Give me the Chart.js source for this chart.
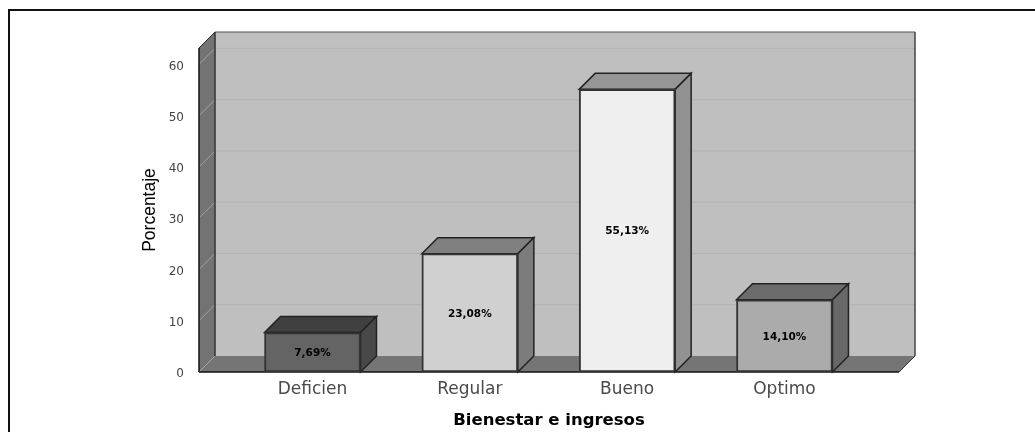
<!DOCTYPE html>
<html>
<head>
<meta charset="utf-8">
<title>Bienestar e ingresos</title>
<script src="https://cdn.jsdelivr.net/npm/chart.js@4/dist/chart.umd.min.js"></script>
<style>
  html, body { margin: 0; padding: 0; background: #fff; overflow: hidden; }
  #frame { position: absolute; left: 8px; top: 9px; width: 1040px; height: 440px;
           border-left: 2px solid #111; border-top: 2px solid #111; }
  #chart { position: absolute; left: 0; top: 0; filter: blur(0.35px); }
</style>
</head>
<body>
<canvas id="chart" width="1035" height="432"></canvas>
<div id="frame"></div>
<script>
// Data
const categories = ['Deficien', 'Regular', 'Bueno', 'Optimo'];
const percentages = [7.69, 23.08, 55.13, 14.10];
const yTicks = [0, 10, 20, 30, 40, 50, 60];

// Grey of each face of the bars
const frontColors = ['#646464', '#d0d0d0', '#efefef', '#ababab'];
const topColors = ['#404040', '#808080', '#969696', '#6c6c6c'];
const sideColors = ['#484848', '#7c7c7c', '#929292', '#686868'];

const depth = 16;

function fillFace(ctx, points, color, stroke) {
  ctx.beginPath();
  points.forEach((p, i) => i ? ctx.lineTo(p[0], p[1]) : ctx.moveTo(p[0], p[1]));
  ctx.closePath();
  ctx.fillStyle = color;
  ctx.fill();
  if (stroke) {
    ctx.strokeStyle = stroke;
    ctx.lineWidth = 1.5;
    ctx.stroke();
  }
}

function line(ctx, x1, y1, x2, y2, color, width) {
  ctx.beginPath();
  ctx.moveTo(x1, y1);
  ctx.lineTo(x2, y2);
  ctx.strokeStyle = color;
  ctx.lineWidth = width;
  ctx.stroke();
}

// Back wall, side wall, floor and the hidden faces of the bars
const box3d = {
  id: 'box3d',
  beforeDatasetsDraw(chart) {
    const ctx = chart.ctx;
    const { left, right, top, bottom } = chart.chartArea;
    const y = chart.scales.y;
    ctx.save();
    fillFace(ctx, [[left + depth, top - depth], [right + depth, top - depth],
                   [right + depth, bottom - depth], [left + depth, bottom - depth]], '#bfbfbf');
    fillFace(ctx, [[left, top], [left + depth, top - depth],
                   [left + depth, bottom - depth], [left, bottom]], '#737373');
    fillFace(ctx, [[left, bottom], [left + depth, bottom - depth],
                   [right + depth, bottom - depth], [right, bottom]], '#757575');

    // grid lines run along the back wall and down the side wall
    yTicks.forEach(v => {
      const py = y.getPixelForValue(v);
      line(ctx, left, py, left + depth, py - depth, '#a2a2a2', 1);
      if (v > 0) line(ctx, left + depth, py - depth, right + depth, py - depth, '#b3b3b3', 1);
    });
    line(ctx, left + depth, top - depth, right + depth, top - depth, '#555', 1);
    line(ctx, left, top, left + depth, top - depth, '#222', 1);
    line(ctx, left + depth, top - depth, left + depth, bottom - depth, '#333', 1.5);
    line(ctx, right + depth, top - depth, right + depth, bottom - depth, '#444', 1.5);
    line(ctx, right + depth, bottom - depth, right, bottom, '#333', 1);
    line(ctx, left, top, left, bottom, '#111', 1.5);
    line(ctx, left, bottom, right, bottom, '#111', 1.5);

    chart.getDatasetMeta(0).data.forEach((bar, i) => {
      const x1 = bar.x - bar.width / 2;
      const x2 = bar.x + bar.width / 2;
      fillFace(ctx, [[x1, bar.y], [x1 + depth, bar.y - depth],
                     [x2 + depth, bar.y - depth], [x2, bar.y]], topColors[i], '#222');
      fillFace(ctx, [[x2, bar.y], [x2 + depth, bar.y - depth],
                     [x2 + depth, bar.base - depth], [x2, bar.base]], sideColors[i], '#222');
    });
    ctx.restore();
  },
  // percentage in the middle of each bar
  afterDatasetsDraw(chart) {
    const ctx = chart.ctx;
    ctx.save();
    ctx.font = 'bold 10.5px "DejaVu Sans"';
    ctx.fillStyle = '#000';
    ctx.textAlign = 'center';
    ctx.textBaseline = 'middle';
    chart.getDatasetMeta(0).data.forEach((bar, i) => {
      const label = percentages[i].toFixed(2).replace('.', ',') + '%';
      ctx.fillText(label, bar.x, (bar.y + bar.base) / 2 + 1);
    });
    ctx.restore();
  }
};

new Chart(document.getElementById('chart').getContext('2d'), {
  type: 'bar',
  data: {
    datasets: [{
      label: 'Porcentaje',
      data: percentages.map((v, i) => ({ x: i, y: v })),
      backgroundColor: frontColors,
      borderColor: '#333',
      borderWidth: 2,
      borderSkipped: false,
      barThickness: 96
    }]
  },
  options: {
    responsive: false,
    animation: false,
    layout: { padding: { left: 36, right: 136, top: 48, bottom: 0 } },
    plugins: {
      legend: { display: false },
      tooltip: { enabled: false }
    },
    scales: {
      x: {
        type: 'linear',
        offset: false,
        min: -0.7215,
        max: 3.728,
        grid: { display: false },
        border: { display: false },
        afterBuildTicks: scale => { scale.ticks = categories.map((c, i) => ({ value: i })); },
        afterFit: scale => { scale.height = 60; },
        title: {
          display: true,
          text: 'Bienestar e ingresos',
          color: '#000',
          font: { family: '"DejaVu Sans"', size: 16.5, weight: 'bold', lineHeight: 1.2 },
          padding: { top: 0, bottom: 1 }
        },
        ticks: {
          autoSkip: false,
          maxRotation: 0,
          padding: -1,
          color: '#4a4a4a',
          font: { family: '"DejaVu Sans"', size: 17 },
          callback: value => categories[value]
        }
      },
      y: {
        min: 0,
        max: 63.2,
        grid: { display: false },
        border: { display: false },
        afterBuildTicks: scale => { scale.ticks = yTicks.map(value => ({ value })); },
        afterFit: scale => { scale.width = 163; },
        title: {
          display: true,
          text: 'Porcentaje',
          color: '#000',
          font: { family: '"Liberation Sans"', size: 17.5, lineHeight: 1.2 },
          padding: { top: 104, bottom: 0 }
        },
        ticks: {
          padding: 7,
          labelOffset: 2,
          color: '#444',
          font: { family: '"DejaVu Sans"', size: 12 }
        }
      }
    }
  },
  plugins: [box3d]
});
</script>
</body>
</html>
